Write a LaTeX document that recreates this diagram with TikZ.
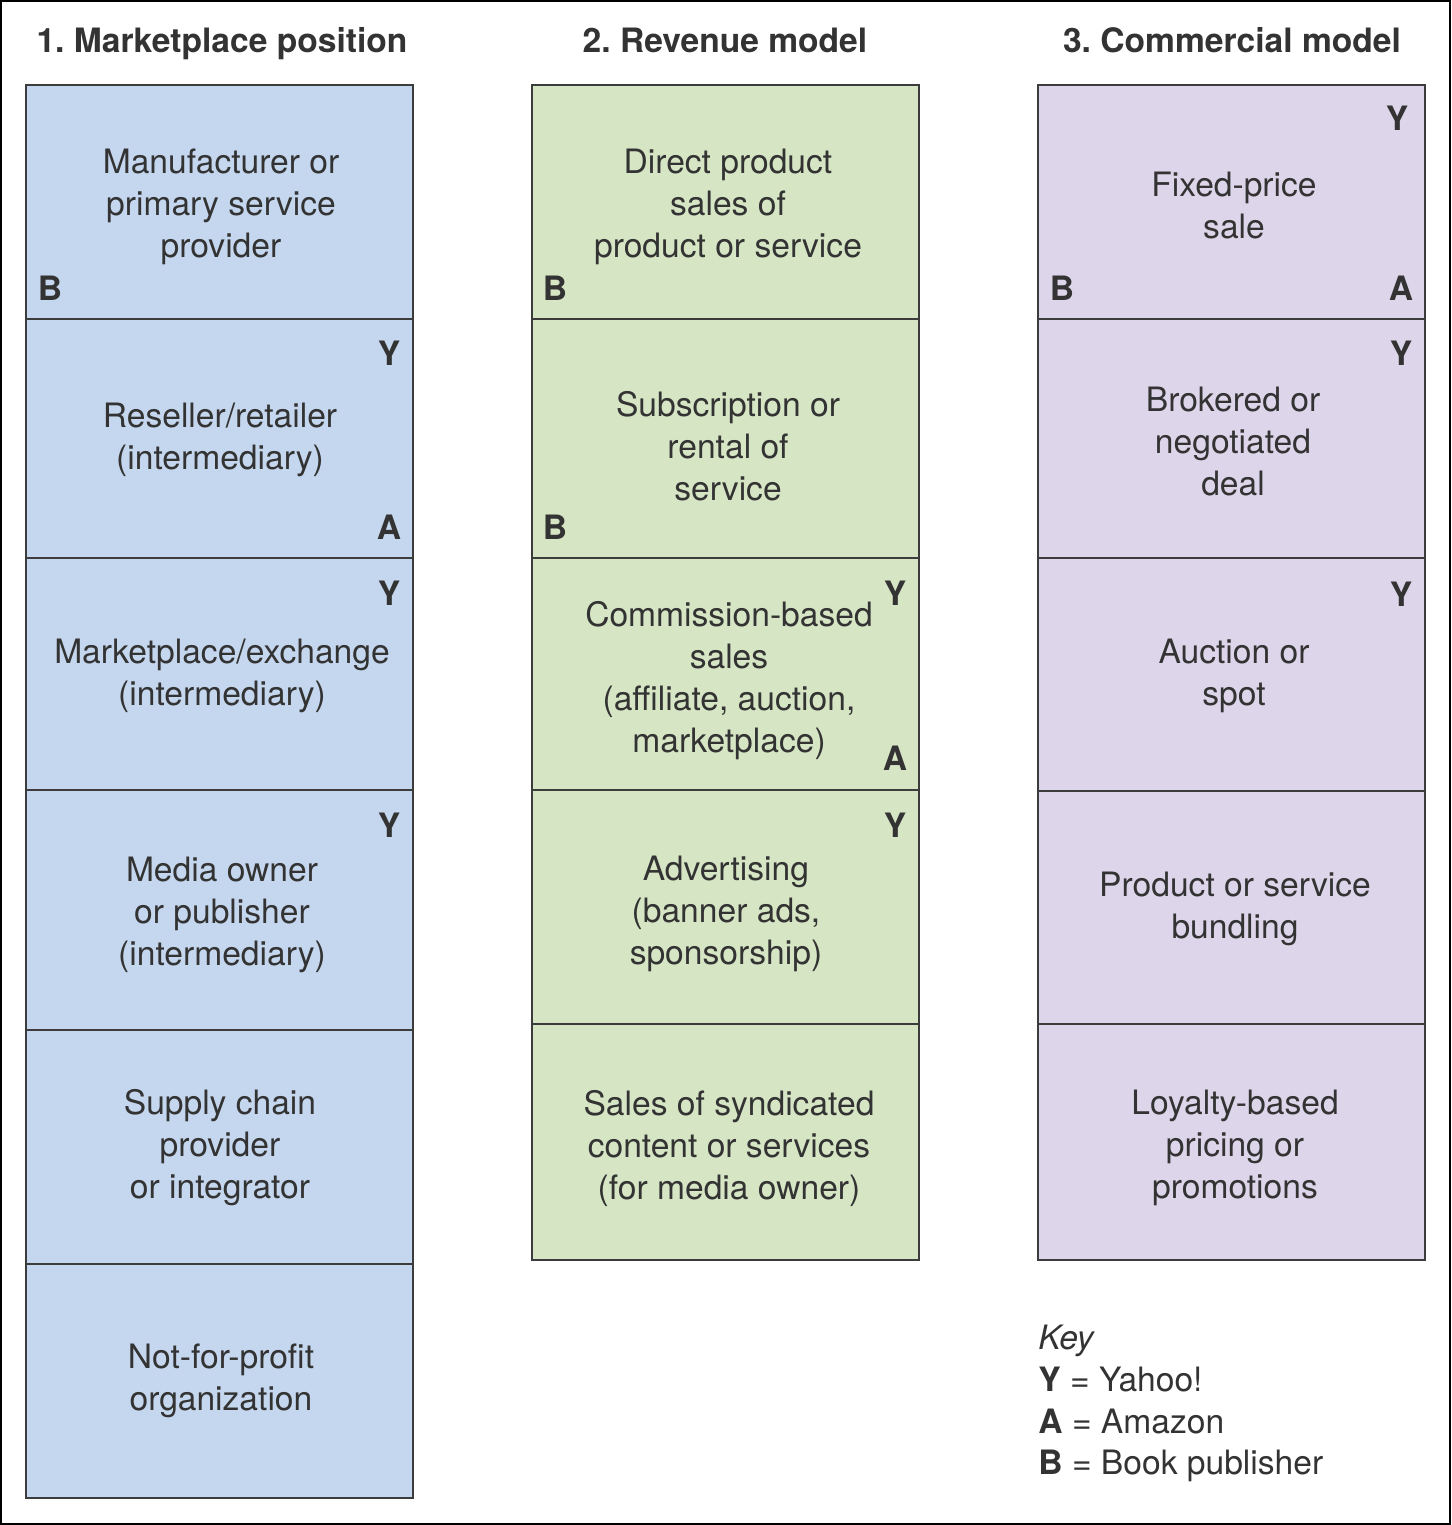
\documentclass[tikz,border=0pt]{standalone}
\usepackage{fontspec}
\setmainfont{TeX Gyre Heros}
\frenchspacing
\definecolor{cblue}{HTML}{C5D7EE}
\definecolor{cgreen}{HTML}{D6E6C5}
\definecolor{cpurple}{HTML}{DDD5E9}
\definecolor{lgray}{HTML}{3C3C3C}
\definecolor{tgray}{HTML}{333333}
\begin{document}
\begin{tikzpicture}[x=0.5pt,y=-0.5pt,
  cellA/.style={fill=cblue,draw=lgray,line width=1pt},
  cellB/.style={fill=cgreen,draw=lgray,line width=1pt},
  cellC/.style={fill=cpurple,draw=lgray,line width=1pt},
  txt/.style={font=\fontsize{16.8}{21}\selectfont,align=center,text=tgray,inner sep=0pt,yshift=-1.5pt},
  hdr/.style={font=\bfseries\fontsize{16.8}{21}\selectfont,text=tgray,inner sep=0pt,anchor=base},
  tag/.style={font=\bfseries\fontsize{16.8}{21}\selectfont,text=tgray,inner sep=0pt},
  keyt/.style={font=\fontsize{16.8}{21}\selectfont,text=tgray,inner sep=0pt,anchor=base west}]
\useasboundingbox (0,0) rectangle (1451,1525);
\draw[black,line width=1pt] (1,1) rectangle (1450,1524);
% headers
\node[hdr] (h1) at (222,53) {1. Marketplace position};
\node[hdr] (h2) at (725,53) {2. Revenue model};
\node[hdr] (h3) at (1232,53) {3. Commercial model};
% column 1
\path[cellA] (26,85) rectangle (413,319);
\path[cellA] (26,319) rectangle (413,558);
\path[cellA] (26,558) rectangle (413,790);
\path[cellA] (26,790) rectangle (413,1030);
\path[cellA] (26,1030) rectangle (413,1264);
\path[cellA] (26,1264) rectangle (413,1498);
\node[txt] (a1) at (221,204) {Manufacturer or\\primary service\\provider};
\node[txt] (a2) at (220,437) {Reseller/retailer\\(intermediary)};
\node[txt] (a3) at (222,673) {Marketplace/exchange\\(intermediary)};
\node[txt] (a4) at (222,912) {Media owner\\or publisher\\(intermediary)};
\node[txt] (a5) at (220,1145) {Supply chain\\provider\\or integrator};
\node[txt] (a6) at (221,1378) {Not-for-profit\\organization};
\node[tag] (a1b) at (50,288) {B};
\node[tag] (a2y) at (389,353) {Y};
\node[tag] (a2a) at (389,527) {A};
\node[tag] (a3y) at (389,593) {Y};
\node[tag] (a4y) at (389,825) {Y};
% column 2
\path[cellB] (532,85) rectangle (919,319);
\path[cellB] (532,319) rectangle (919,558);
\path[cellB] (532,558) rectangle (919,790);
\path[cellB] (532,790) rectangle (919,1024);
\path[cellB] (532,1024) rectangle (919,1260);
\node[txt] (b1) at (728,204) {Direct product\\sales of\\product or service};
\node[txt] (b2) at (728,443) {Subscription or\\rental of\\service};
\node[txt] (b3) at (729,678) {Commission-based\\sales\\(affiliate, auction,\\marketplace)};
\node[txt] (b4) at (726,911) {Advertising\\(banner ads,\\sponsorship)};
\node[txt] (b5) at (729,1145) {Sales of syndicated\\content or services\\(for media owner)};
\node[tag] (b1b) at (555,288) {B};
\node[tag] (b2b) at (555,527) {B};
\node[tag] (b3y) at (895,593) {Y};
\node[tag] (b3a) at (895,758) {A};
\node[tag] (b4y) at (895,825) {Y};
% column 3
\path[cellC] (1038,85) rectangle (1425,319);
\path[cellC] (1038,319) rectangle (1425,558);
\path[cellC] (1038,558) rectangle (1425,791);
\path[cellC] (1038,791) rectangle (1425,1024);
\path[cellC] (1038,1024) rectangle (1425,1260);
\node[txt] (c1) at (1234,203) {Fixed-price\\sale};
\node[txt] (c2) at (1233,439) {Brokered or\\negotiated\\deal};
\node[txt] (c3) at (1234,673) {Auction or\\spot};
\node[txt] (c4) at (1235,906) {Product or service\\bundling};
\node[txt] (c5) at (1235,1145) {Loyalty-based\\pricing or\\promotions};
\node[tag] (c1y) at (1397,118) {Y};
\node[tag] (c1b) at (1062,288) {B};
\node[tag] (c1a) at (1401,288) {A};
\node[tag] (c2y) at (1401,353) {Y};
\node[tag] (c3y) at (1401,594) {Y};
% key
\node[keyt] (k0) at (1038,1349) {\itshape Key};
\node[keyt] (k1) at (1038,1391) {\textbf{Y} = Yahoo!};
\node[keyt] (k2) at (1038,1433) {\textbf{A} = Amazon};
\node[keyt] (k3) at (1038,1474) {\textbf{B} = Book publisher};
\end{tikzpicture}
\end{document}
